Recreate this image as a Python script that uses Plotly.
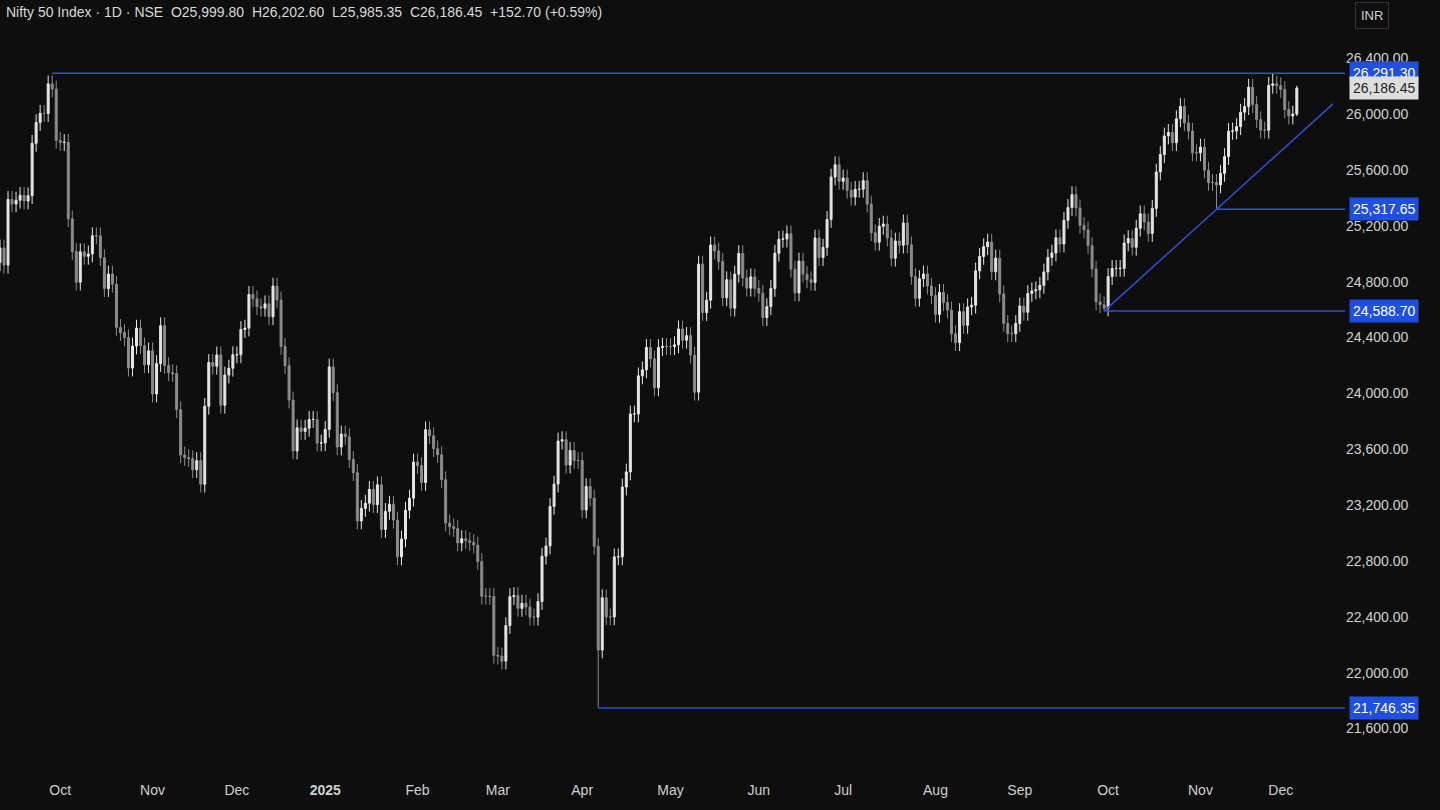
import pandas as pd
import plotly.graph_objects as go

closes = [
 24936,25041,24918,25389,25356,25383,25418,25377,25415,25790,25939,26005,26004,26216,26179,25811,
 25796,25797,25250,25015,24796,25013,24981,24998,25128,25127,24971,24750,24854,24781,24472,24435,24399,24181,24339,24467,24341,24205,24304,
 23995,24213,24484,24199,24148,24141,23883,23559,23540,23532,23453,23518,23349,23907,24221,24194,24275,23914,24131,24180,24276,
 24276,24457,24467,24708,24677,24620,24610,24641,24548,24768,24668,24336,24198,23952,23587,23753,23727,23750,23813,23813,23644,23645,
 23742,24189,24004,23616,23708,23689,23526,23432,23086,23176,23213,23312,23203,23345,23025,23155,23206,23092,22829,22957,23163,23249,23508,
 23482,23361,23739,23696,23603,23560,23381,23071,23045,23031,22929,22959,22945,22932,22913,22795,22547,22547,22545,22124,
 22119,22082,22337,22544,22552,22460,22497,22470,22397,22397,22509,22834,22907,23190,23350,23658,23668,23486,23591,23519,23519,
 23165,23332,23250,22904,22162,22536,22399,22399,22829,22829,23329,23437,23852,23852,24125,24168,24329,24247,24039,24328,24336,24334,
 24334,24347,24461,24380,24414,24273,24008,24925,24578,24667,25062,25020,24945,24684,24813,24610,24853,25001,24826,24753,24834,24751,
 24717,24543,24621,24751,25003,25103,25105,25142,24889,24719,24947,24853,24813,24794,25112,24972,25045,25245,25549,25637,25518,
 25542,25454,25405,25461,25461,25523,25355,25149,25082,25196,25212,25112,24968,25091,25061,25220,25063,24837,24681,24821,24855,24768,24700,
 24565,24723,24650,24596,24426,24363,24585,24487,24619,24631,24877,24980,25050,25083,24870,24968,24712,24501,24427,24427,24500,
 24625,24580,24715,24734,24741,24773,24869,24973,25005,25114,25069,25239,25331,25423,25327,25203,25170,25057,24891,24655,24634,24611,
 24836,24894,24894,24895,25077,25108,25046,25182,25285,25227,25145,25324,25585,25710,25843,25868,25795,25966,26054,25936,25878,25722,25722,
 25763,25598,25510,25509,25492,25575,25695,25876,25879,25910,26013,26053,26192,26068,25959,25885,25884,26205,26216,26203,
 26176,26032,25986,25999.80,26186.45,
]
first_open = 24850
wick_pad = 60
# explicit extreme overrides: (date, high, low)
overrides = {"2024-09-27": (26277.35, None), "2025-04-07": (None, 21746.35),
             "2025-09-30": (None, 24588.70), "2025-11-07": (None, 25317.65),
             "2025-11-27": (26291.30, None), "2025-12-05": (26202.60, 25985.35)}
last_open = 25999.80
levels_blue = [26291.30, 25317.65, 24588.70, 21746.35]
last_close = 26186.45
month_names = ["Oct","Nov","Dec","2025","Feb","Mar","Apr","May","Jun","Jul","Aug","Sep","Oct","Nov","Dec"]

dates = pd.bdate_range("2024-09-09", periods=len(closes))
ds = [d.strftime("%Y-%m-%d") for d in dates]
opens = [first_open] + closes[:-1]
opens[-1] = last_open
highs = [max(o, c) + wick_pad for o, c in zip(opens, closes)]
lows = [min(o, c) - wick_pad for o, c in zip(opens, closes)]
for d, (h, l) in overrides.items():
    i = ds.index(d)
    if h is not None: highs[i] = h
    if l is not None: lows[i] = l
idx = list(range(len(closes)))

tickvals = []
prev = None
for i, d in enumerate(dates):
    if prev is not None and d.month != prev.month and d >= pd.Timestamp("2024-10-01"):
        tickvals.append(i)
    prev = d
ticktext = [("<b>%s</b>" % m if m == "2025" else m) for m in month_names][:len(tickvals)]

fig = go.Figure(go.Candlestick(x=idx, open=opens, high=highs, low=lows, close=closes,
    increasing=dict(line=dict(color="#e6e6e6", width=1), fillcolor="#e6e6e6"),
    decreasing=dict(line=dict(color="#8c8c8c", width=1), fillcolor="#8c8c8c"),
    whiskerwidth=0, showlegend=False, hoverinfo="skip"))

XL, XR = 1, 336
blue = "#2f4fd6"
def L(x0, y0, x1, y1):
    fig.add_shape(type="line", x0=x0, y0=y0, x1=x1, y1=y1, xref="x", yref="y",
                  line=dict(color=blue, width=1.5))
L(ds.index("2024-09-27"), levels_blue[0], XR, levels_blue[0])
L(ds.index("2025-11-07"), levels_blue[1], XR, levels_blue[1])
L(ds.index("2025-09-30"), levels_blue[2], XR, levels_blue[2])
L(ds.index("2025-04-07"), levels_blue[3], XR, levels_blue[3])
i0 = ds.index("2025-09-30"); i1 = ds.index("2025-11-07")
slope = (levels_blue[1] - levels_blue[2]) / (i1 - i0)
L(i0, levels_blue[2], i0 + 57, levels_blue[2] + slope * 57)

for v in levels_blue:
    fig.add_annotation(x=1, xref="paper", y=v, yref="y", xanchor="left", text=f"{v:,.2f}",
        showarrow=False, bgcolor="#1f4fe0", font=dict(color="white", size=14, family="Liberation Sans"),
        borderpad=3, xshift=4)
fig.add_annotation(x=1, xref="paper", y=last_close, yref="y", xanchor="left", text=f"{last_close:,.2f}",
    showarrow=False, bgcolor="#dedede", font=dict(color="#222", size=14, family="Liberation Sans"),
    borderpad=3, xshift=4)
fig.add_annotation(x=0.003, xref="paper", y=1, yref="paper", yshift=26, xanchor="left", yanchor="top",
    text="Nifty 50 Index · 1D · NSE  O25,999.80  H26,202.60  L25,985.35  C26,186.45  +152.70 (+0.59%)",
    showarrow=False, font=dict(color="#d8d8d8", size=14, family="Liberation Sans Narrow, Liberation Sans"))
fig.add_annotation(x=1, xref="paper", y=1, yref="paper", yshift=26, xanchor="left", yanchor="top", xshift=10,
    text="INR", showarrow=False, font=dict(color="#cfcfcf", size=13, family="Liberation Sans"),
    bordercolor="#333", borderwidth=1, borderpad=5)

fig.update_layout(width=1440, height=810, paper_bgcolor="#0e0e0e", plot_bgcolor="#0e0e0e",
    margin=dict(l=0, r=95, t=28, b=30),
    xaxis=dict(range=[XL, XR], tickvals=tickvals, ticktext=ticktext, showgrid=False, zeroline=False,
               rangeslider=dict(visible=False), tickfont=dict(color="#d0d0d0", size=14, family="Liberation Sans"),
               ticks=""),
    yaxis=dict(side="right", range=[21231, 26616], tickvals=list(range(21600, 26401, 400)),
               tickformat=",.2f", showgrid=False, zeroline=False,
               tickfont=dict(color="#d0d0d0", size=14, family="Liberation Sans"), ticks=""))
fig.write_html("out.html", config={"displayModeBar": False})
with open("out.html") as f:
    html = f.read()
html = html.replace("<body>", '<body style="margin:0;background:#0e0e0e;overflow:hidden">', 1)
with open("out.html", "w") as f:
    f.write(html)
